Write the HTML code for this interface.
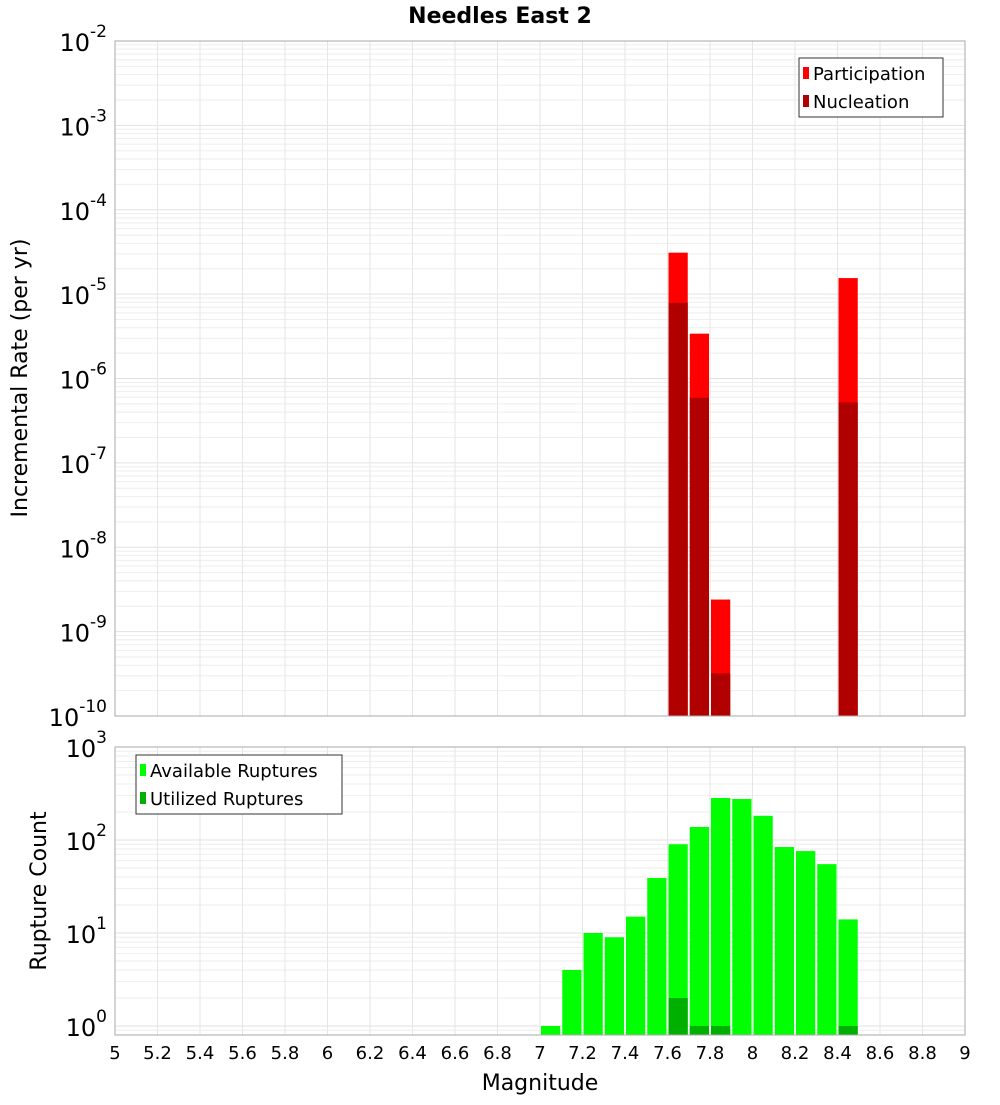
<!DOCTYPE html>
<html><head><meta charset="utf-8"><style>
body{margin:0;background:#fff;font-family:"Liberation Sans","DejaVu Sans",sans-serif}
svg text{font-family:"DejaVu Sans","Liberation Sans",sans-serif}
</style></head><body>
<svg id="c" width="1000" height="1100" xmlns="http://www.w3.org/2000/svg">
<text x="500" y="23" text-anchor="middle" font-size="22" font-weight="bold">Needles East 2</text>
<text transform="translate(27,378) rotate(-90)" text-anchor="middle" font-size="22">Incremental Rate (per yr)</text>
<text transform="translate(46,891) rotate(-90)" text-anchor="middle" font-size="22">Rupture Count</text>
<text x="540" y="1090" text-anchor="middle" font-size="22">Magnitude</text>
<g id="g"></g>
</svg>
<script>
const mags=[7.05,7.15,7.25,7.35,7.45,7.55,7.65,7.75,7.85,7.95,8.05,8.15,8.25,8.35,8.45];
const available=[1,4,10,9,15,39,90,138,283,276,182,84,76,55,14];
const utilized=[0,0,0,0,0,0,2,1,1,0,0,0,0,0,1];
const rateMags=[7.65,7.75,7.85,8.45];
const participation=[3.1e-5,3.4e-6,2.4e-9,1.55e-5];
const nucleation=[7.9e-6,5.9e-7,3.2e-10,5.2e-7];
const xTicks=[5,5.2,5.4,5.6,5.8,6,6.2,6.4,6.6,6.8,7,7.2,7.4,7.6,7.8,8,8.2,8.4,8.6,8.8,9];
const topExp=[-2,-3,-4,-5,-6,-7,-8,-9,-10];
const botExp=[0,1,2,3];

const NS="http://www.w3.org/2000/svg",g=document.getElementById('g');
function el(t,a,p){const e=document.createElementNS(NS,t);for(const k in a)e.setAttribute(k,a[k]);(p||g).appendChild(e);return e;}
const X0=115,X1=965;
const x=m=>X0+(m-5)/(9-5)*(X1-X0);
const T0=41,T1=716,yT=v=>T0+(-2-Math.log10(v))/8*(T1-T0);
const B0=747,B1=1035,BMIN=Math.log10(0.8),yB=v=>B1-(Math.log10(v)-BMIN)/(3-BMIN)*(B1-B0);
const bw=(x(5.1)-x(5))-2;

function grid(y0,y1,lo,hi,yf){
  for(let e=lo;e<hi;e++)for(let k=1;k<10;k++){const v=k*Math.pow(10,e),yy=yf(v);if(yy<y0-0.5||yy>y1+0.5)continue;
    const l=el('line',{x1:X0,x2:X1,y1:yy,y2:yy,stroke:k==1?'#e2e2e2':'#eeeeee','stroke-width':1});
    }
  xTicks.forEach(t=>{const l=el('line',{x1:x(t),x2:x(t),y1:y0,y2:y1,stroke:'#e6e6e6'});
    });
}
grid(T0,T1,-10,-1,yT);
grid(B0,B1,-1,3,yB);

participation.forEach((v,i)=>{const r=el('rect',{x:x(rateMags[i])-bw/2,y:yT(v),width:bw,height:T1-yT(v),fill:'#ff0000'});
  });
nucleation.forEach((v,i)=>{const r=el('rect',{x:x(rateMags[i])-bw/2,y:yT(v),width:bw,height:T1-yT(v),fill:'#b00000'});
  });
available.forEach((v,i)=>{if(v<=0)return;const r=el('rect',{x:x(mags[i])-bw/2,y:yB(v),width:bw,height:B1-yB(v),fill:'#00ff00'});
  });
utilized.forEach((v,i)=>{if(v<=0)return;const r=el('rect',{x:x(mags[i])-bw/2,y:yB(v),width:bw,height:B1-yB(v),fill:'#00b000'});
  });

let f=el('rect',{x:X0,y:T0,width:X1-X0,height:T1-T0,fill:'none',stroke:'#aaaaaa'});

f=el('rect',{x:X0,y:B0,width:X1-X0,height:B1-B0,fill:'none',stroke:'#aaaaaa'});


function ylab(e,yy,name){const t=el('text',{x:107,y:yy+10,'text-anchor':'end','font-size':24});
  
  t.textContent='10';const s=el('tspan',{dy:-14,'font-size':17},t);s.textContent=String(e);}
topExp.forEach(e=>ylab(e,yT(Math.pow(10,e)),'top-y-tick-label'));
botExp.forEach(e=>ylab(e,yB(Math.pow(10,e)),'bottom-y-tick-label'));
xTicks.forEach(t=>{const tx=el('text',{x:x(t),y:1059,'text-anchor':'middle','font-size':18});
  tx.textContent=String(t);});

function legend(x0,y0,w,items,name){
  const b=el('rect',{x:x0,y:y0,width:w,height:59,fill:'#fff',stroke:'#333'});
  
  items.forEach((it,i)=>{const yy=y0+15+i*28;
    const s=el('rect',{x:x0+4,y:yy-6,width:6,height:12,fill:it[1]});
    
    const t=el('text',{x:x0+14,y:yy+7,'font-size':18});
    t.textContent=it[0];});
}
legend(799,58,144,[['Participation','#ff0000'],['Nucleation','#b00000']],'top-legend');
legend(136,755,206,[['Available Ruptures','#00ff00'],['Utilized Ruptures','#00b000']],'bottom-legend');
</script>
</body></html>
